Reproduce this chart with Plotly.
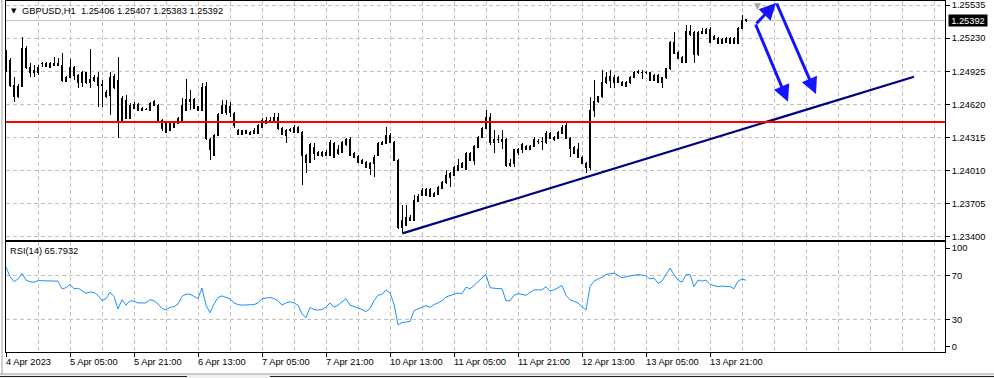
import plotly.graph_objects as go

# ---------------- data ----------------
bar_index = list(range(186))

opens = [
1.25102,1.25028,1.24798,1.24688,1.24789,1.25139,1.24964,1.24936,1.24909,1.24992,
1.24992,1.24964,1.24982,1.25001,1.24982,1.24835,1.24872,1.24964,1.24890,1.24826,
1.24909,1.24853,1.24844,1.24863,1.24807,1.24688,1.24872,1.24780,1.24844,1.24467,
1.24494,1.24494,1.24623,1.24623,1.24586,1.24577,1.24568,1.24614,1.24614,1.24476,
1.24448,1.24384,1.24411,1.24448,1.24476,1.24568,1.24669,1.24586,1.24596,1.24568,
1.24789,1.24301,1.24153,1.24338,1.24540,1.24614,1.24549,1.24540,1.24384,1.24347,
1.24375,1.24365,1.24356,1.24356,1.24411,1.24448,1.24467,1.24457,1.24503,1.24402,
1.24384,1.24384,1.24365,1.24411,1.24365,1.24153,1.24089,1.24227,1.24181,1.24181,
1.24153,1.24153,1.24264,1.24172,1.24181,1.24246,1.24301,1.24172,1.24144,1.24107,
1.24089,1.24080,1.24080,1.24153,1.24255,1.24264,1.24338,1.24273,1.24107,1.23490,
1.23509,1.23582,1.23555,1.23730,1.23785,1.23840,1.23840,1.23803,1.23794,1.23849,
1.23896,1.23951,1.23969,1.24015,1.24043,1.24024,1.24172,1.24107,1.24227,1.24319,
1.24402,1.24503,1.24301,1.24301,1.24301,1.24301,1.24080,1.24080,1.24181,1.24200,
1.24236,1.24209,1.24236,1.24282,1.24282,1.24273,1.24310,1.24292,1.24310,1.24356,
1.24430,1.24310,1.24227,1.24209,1.24135,1.24080,1.24043,1.24568,1.24642,1.24688,
1.24817,1.24881,1.24872,1.24826,1.24826,1.24826,1.24817,1.24872,1.24909,1.24918,
1.24909,1.24909,1.24844,1.24890,1.24863,1.24863,1.24946,1.25194,1.25102,1.25056,
1.25010,1.25295,1.25286,1.25075,1.25295,1.25277,1.25314,1.25249,1.25231,1.25185,
1.25194,1.25231,1.25185,1.25185,1.25323,1.25406]

highs = [
1.25121,1.25047,1.24872,1.24807,1.25240,1.25157,1.25001,1.24982,1.24982,1.25010,
1.25010,1.25010,1.25056,1.25047,1.25093,1.24881,1.25038,1.24973,1.24899,1.24927,
1.24918,1.25130,1.24890,1.24918,1.24844,1.24752,1.24918,1.24899,1.25056,1.24697,
1.24706,1.24632,1.24642,1.24632,1.24596,1.24586,1.24642,1.24660,1.24623,1.24485,
1.24457,1.24457,1.24467,1.24503,1.24678,1.24853,1.24752,1.24678,1.24605,1.24817,
1.24826,1.24310,1.24347,1.24540,1.24660,1.24660,1.24642,1.24549,1.24393,1.24384,
1.24384,1.24375,1.24402,1.24439,1.24494,1.24503,1.24503,1.24540,1.24540,1.24411,
1.24393,1.24402,1.24430,1.24421,1.24375,1.24163,1.24264,1.24264,1.24190,1.24190,
1.24200,1.24292,1.24273,1.24246,1.24282,1.24310,1.24319,1.24181,1.24153,1.24117,
1.24098,1.24089,1.24153,1.24273,1.24282,1.24411,1.24356,1.24282,1.24117,1.23693,
1.23693,1.23601,1.23785,1.23794,1.23849,1.23849,1.23849,1.23813,1.23868,1.23914,
1.24015,1.23997,1.24052,1.24117,1.24089,1.24181,1.24181,1.24246,1.24329,1.24411,
1.24568,1.24540,1.24384,1.24338,1.24384,1.24310,1.24117,1.24209,1.24218,1.24264,
1.24246,1.24246,1.24319,1.24301,1.24319,1.24375,1.24365,1.24329,1.24375,1.24430,
1.24448,1.24319,1.24236,1.24264,1.24144,1.24089,1.24688,1.24844,1.24697,1.24936,
1.24918,1.24936,1.24890,1.24881,1.24835,1.24835,1.24881,1.24927,1.24936,1.24936,
1.24927,1.24918,1.24899,1.24899,1.24872,1.24955,1.25203,1.25286,1.25111,1.25065,
1.25351,1.25351,1.25295,1.25295,1.25323,1.25323,1.25332,1.25259,1.25240,1.25231,
1.25240,1.25240,1.25240,1.25332,1.25443,1.25407]

lows = [
1.24918,1.24780,1.24642,1.24678,1.24780,1.24946,1.24872,1.24872,1.24890,1.24964,
1.24964,1.24955,1.24973,1.24973,1.24826,1.24826,1.24863,1.24844,1.24771,1.24780,
1.24807,1.24771,1.24826,1.24596,1.24596,1.24678,1.24522,1.24761,1.24310,1.24457,
1.24485,1.24485,1.24577,1.24559,1.24559,1.24568,1.24559,1.24605,1.24448,1.24375,
1.24356,1.24375,1.24402,1.24439,1.24467,1.24559,1.24568,1.24577,1.24568,1.24559,
1.24292,1.24107,1.24144,1.24329,1.24531,1.24522,1.24503,1.24402,1.24338,1.24338,
1.24347,1.24338,1.24347,1.24347,1.24402,1.24439,1.24457,1.24448,1.24384,1.24338,
1.24264,1.24365,1.24356,1.24356,1.23877,1.23988,1.24080,1.24107,1.24144,1.24135,
1.24144,1.24144,1.24126,1.24153,1.24172,1.24236,1.24144,1.24126,1.24080,1.24071,
1.24034,1.23969,1.23951,1.24144,1.24246,1.24255,1.24264,1.24098,1.23472,1.23435,
1.23500,1.23546,1.23546,1.23721,1.23776,1.23776,1.23767,1.23767,1.23785,1.23840,
1.23886,1.23859,1.23960,1.24006,1.24034,1.24015,1.24098,1.24061,1.24218,1.24310,
1.24393,1.24246,1.24172,1.24264,1.24209,1.24043,1.24043,1.24043,1.24153,1.24172,
1.24200,1.24200,1.24227,1.24255,1.24200,1.24255,1.24301,1.24282,1.24301,1.24347,
1.24301,1.24135,1.24163,1.24126,1.24071,1.23988,1.24015,1.24503,1.24632,1.24678,
1.24807,1.24771,1.24771,1.24817,1.24789,1.24780,1.24807,1.24863,1.24899,1.24853,
1.24899,1.24835,1.24835,1.24817,1.24771,1.24853,1.24936,1.25084,1.25038,1.25001,
1.25001,1.25249,1.25001,1.25065,1.25268,1.25268,1.25185,1.25213,1.25176,1.25176,
1.25185,1.25176,1.25176,1.25176,1.25314,1.25383]

closes = [
1.24936,1.24798,1.24688,1.24789,1.25139,1.24964,1.24918,1.24918,1.24964,1.25001,
1.24973,1.24992,1.25001,1.24982,1.24844,1.24872,1.24964,1.24890,1.24826,1.24909,
1.24826,1.24826,1.24872,1.24798,1.24798,1.24725,1.24706,1.24881,1.24457,1.24678,
1.24660,1.24614,1.24586,1.24568,1.24568,1.24577,1.24632,1.24642,1.24457,1.24402,
1.24365,1.24448,1.24457,1.24494,1.24614,1.24669,1.24651,1.24669,1.24568,1.24780,
1.24310,1.24209,1.24338,1.24531,1.24614,1.24549,1.24596,1.24421,1.24347,1.24375,
1.24356,1.24347,1.24384,1.24430,1.24476,1.24476,1.24476,1.24503,1.24402,1.24347,
1.24338,1.24393,1.24411,1.24365,1.24153,1.24089,1.24246,1.24172,1.24153,1.24153,
1.24181,1.24273,1.24135,1.24200,1.24273,1.24292,1.24153,1.24135,1.24089,1.24080,
1.24043,1.24034,1.24135,1.24264,1.24273,1.24329,1.24273,1.24107,1.23490,1.23555,
1.23582,1.23555,1.23739,1.23776,1.23831,1.23785,1.23776,1.23776,1.23859,1.23905,
1.23969,1.23988,1.24043,1.24061,1.24080,1.24172,1.24107,1.24236,1.24319,1.24402,
1.24503,1.24273,1.24273,1.24299,1.24282,1.24061,1.24061,1.24200,1.24200,1.24246,
1.24209,1.24236,1.24301,1.24280,1.24280,1.24356,1.24356,1.24319,1.24365,1.24411,
1.24310,1.24218,1.24172,1.24135,1.24080,1.24043,1.24568,1.24642,1.24688,1.24826,
1.24872,1.24844,1.24817,1.24872,1.24798,1.24789,1.24872,1.24918,1.24927,1.24916,
1.24918,1.24844,1.24890,1.24826,1.24826,1.24946,1.25194,1.25093,1.25047,1.25010,
1.25295,1.25259,1.25075,1.25286,1.25277,1.25314,1.25194,1.25222,1.25185,1.25222,
1.25231,1.25185,1.25231,1.25323,1.25397,1.25392]

rsi_values = [
78, 69, 64.5, 67, 72, 66, 64.5, 64, 65.5, 65.5,
65.5, 65.5, 65.5, 65, 58, 59, 62, 58, 58.5, 56,
54, 55, 54.5, 52, 47, 49, 55, 51, 39.5, 48,
43, 47, 46.5, 45, 45, 45, 48, 47, 44, 40,
38.5, 41, 41.5, 44, 51, 53, 53, 51, 49, 58.7,
43, 36, 44, 50, 51.5, 50, 49, 45, 43.5, 43,
43, 43.5, 43.5, 45, 49, 49.5, 50, 49, 47, 43,
45, 46, 45, 43, 35, 31.5, 41, 39, 38.5, 39,
41, 45, 41, 43, 46, 49, 43, 42, 40.5, 39,
37, 40, 47, 52, 53, 57, 54, 44, 25, 27,
27.5, 28, 38, 39.5, 41.5, 42.5, 41, 43.5, 45, 47,
50.5, 52, 53, 54, 53.5, 59.5, 58, 61, 65, 68,
71, 59, 58.5, 58.5, 58, 47, 47, 52, 53.5, 53,
52, 54.5, 57, 57, 57, 60, 56, 57, 59, 61,
52, 48, 46.5, 45, 41.5, 38.5, 60, 65, 67, 68.5,
71, 72, 72.5, 70.5, 68, 69, 70, 70.5, 71, 70.5,
70, 67, 68, 63, 65, 71, 77, 71, 66, 64,
71, 71, 60, 66, 65, 66, 62, 61, 60, 60.5,
60.5, 60, 58, 65, 67, 65.7932]

time_label_bars = [0, 16, 32, 48, 64, 80, 96, 112, 128, 144, 160, 176]
time_labels = ["4 Apr 2023", "5 Apr 05:00", "5 Apr 21:00", "6 Apr 13:00",
               "7 Apr 05:00", "7 Apr 21:00", "10 Apr 13:00", "11 Apr 05:00",
               "11 Apr 21:00", "12 Apr 13:00", "13 Apr 05:00", "13 Apr 21:00"]
grid_bars = list(range(8, 233, 8))

price_ticks = [1.25535, 1.25230, 1.24925, 1.24620, 1.24315, 1.24010, 1.23705, 1.23400]
rsi_tick_pos = [4.9, 30, 70, 95.4]
rsi_tick_text = ["0", "30", "70", "100"]
rsi_levels = [30, 70]

symbol = "GBPUSD,H1"
last_ohlc = [1.25406, 1.25407, 1.25383, 1.25392]
rsi_title = "RSI(14) 65.7932"

support_level = 1.24457
trend_x = [99.1, 227.0]
trend_y = [1.23432, 1.24875]

# arrows: (tail_x, tail_y, head_x, head_y)
arrows = [
    (187.25, 1.25351, 192.5, 1.25553),
    (192.5, 1.25563, 202.5, 1.24715),
    (187.25, 1.25369, 195.5, 1.24644),
]
shift_marker_bar = 187.75

# ---------------- figure ----------------
FONT = "Liberation Sans, Arial, sans-serif"
GRID = "#c0c0c0"
DASH = "4px,3px"
W, H = 994, 378
ML, MR, MT, MB = 6, 49, 1, 26
PW, PH = W - ML - MR, H - MT - MB

def py(y_px):
    return (H - MB - y_px) / PH

def px(x_px):
    return (x_px - ML) / PW

fig = go.Figure()
fig.add_trace(go.Candlestick(
    x=bar_index, open=opens, high=highs, low=lows, close=closes,
    xaxis="x", yaxis="y",
    increasing=dict(line=dict(color="black", width=1), fillcolor="white"),
    decreasing=dict(line=dict(color="black", width=1), fillcolor="black"),
    whiskerwidth=0, hoverinfo="skip", showlegend=False))
fig.add_trace(go.Scatter(
    x=trend_x, y=trend_y, mode="lines", xaxis="x", yaxis="y",
    line=dict(color="#000080", width=2.2), hoverinfo="skip", showlegend=False))
fig.add_trace(go.Scatter(
    x=bar_index, y=rsi_values, mode="lines", xaxis="x2", yaxis="y2",
    line=dict(color="#1e90ff", width=1), hoverinfo="skip", showlegend=False))

xr = [0, 234.75]
main_bottom = 240
rsi_top = 242

common_x = dict(range=xr, showline=True, mirror=True, linecolor="black", linewidth=1,
                zeroline=False, fixedrange=True)

fig.update_layout(
    width=W, height=H, margin=dict(l=ML, r=MR, t=MT, b=MB),
    paper_bgcolor="white", plot_bgcolor="white",
    showlegend=False, hovermode=False, dragmode=False, boxgap=0.3,
    font=dict(family=FONT, size=9.3, color="black"),
    xaxis=dict(domain=[0, 1], anchor="y", tickvals=grid_bars, showticklabels=False, ticks="",
               showgrid=True, gridcolor=GRID, griddash=DASH, gridwidth=1,
               rangeslider=dict(visible=False), **common_x),
    yaxis=dict(domain=[py(main_bottom), 1], anchor="x", side="right",
               range=[1.23371, 1.25572], tickvals=price_ticks,
               ticktext=[f"{v:.5f}" for v in price_ticks],
               ticks="outside", ticklen=4, tickcolor="black",
               showgrid=True, gridcolor=GRID, griddash=DASH, gridwidth=1,
               showline=True, mirror=True, linecolor="black", linewidth=1,
               zeroline=False, fixedrange=True, automargin=False,
               tickfont=dict(family=FONT, size=9.3, color="black")),
    xaxis2=dict(domain=[0, 1], anchor="y2", tickvals=time_label_bars,
                showticklabels=False, ticks="outside", ticklen=4, tickcolor="black",
                showgrid=True, gridcolor=GRID, griddash=DASH, gridwidth=1,
                minor=dict(tickvals=[b for b in grid_bars if b not in time_label_bars],
                           showgrid=True, gridcolor=GRID, griddash=DASH, ticks=""),
                **common_x),
    yaxis2=dict(domain=[0, py(rsi_top)], anchor="x2", side="right",
                range=[0, 100.92], tickvals=rsi_tick_pos, ticktext=rsi_tick_text,
                ticks="outside", ticklen=4, tickcolor="black", showgrid=False,
                minor=dict(tickvals=rsi_levels, showgrid=True, gridcolor=GRID,
                           griddash=DASH, ticks=""),
                showline=True, mirror=True, linecolor="black", linewidth=1,
                zeroline=False, fixedrange=True, automargin=False,
                tickfont=dict(family=FONT, size=9.3, color="black")),
)

shapes = []
# current price line
shapes.append(dict(type="line", xref="x domain", yref="y", x0=0, x1=1,
                   y0=last_ohlc[3], y1=last_ohlc[3], layer="below",
                   line=dict(color="#c0c0c0", width=1)))
# horizontal support line
shapes.append(dict(type="line", xref="x domain", yref="y", x0=0, x1=1,
                   y0=support_level, y1=support_level, layer="above",
                   line=dict(color="#ff0000", width=2)))
# window chrome
shapes.append(dict(type="rect", xref="paper", yref="paper", x0=px(0), x1=px(W),
                   y0=py(373.5), y1=py(H), fillcolor="#f0f0f0", line=dict(width=0)))
shapes.append(dict(type="line", xref="paper", yref="paper", x0=px(0), x1=px(W),
                   y0=py(374), y1=py(374), line=dict(color="#a0a0a0", width=1)))
shapes.append(dict(type="line", xref="paper", yref="paper", x0=px(0), x1=px(187),
                   y0=py(376.5), y1=py(376.5), line=dict(color="#202020", width=1)))
shapes.append(dict(type="line", xref="paper", yref="paper", x0=px(270), x1=px(W),
                   y0=py(376.5), y1=py(376.5), line=dict(color="#202020", width=1)))
shapes.append(dict(type="line", xref="paper", yref="paper", x0=px(2), x1=px(2),
                   y0=py(374), y1=py(0), line=dict(color="#a0a0a0", width=1)))
fig.update_layout(shapes=shapes)

ann = []
for b, t in zip(time_label_bars, time_labels):
    ann.append(dict(x=b, xref="x2", y=0, yref="paper", text=t, showarrow=False,
                    xanchor="left", yanchor="top", xshift=-2, yshift=-3,
                    font=dict(family=FONT, size=9.3, color="black")))
for tx, ty, hx, hy in arrows:
    ann.append(dict(x=hx, y=hy, xref="x", yref="y", ax=tx, ay=ty, axref="x", ayref="y",
                    text="", showarrow=True, arrowhead=2, arrowsize=1.1, arrowwidth=3,
                    arrowcolor="#1414ff", standoff=0, startstandoff=0))
# shift marker
ann.append(dict(x=shift_marker_bar, xref="x", y=1, yref="paper", text="▼",
                showarrow=False, yanchor="top", yshift=2,
                font=dict(family="DejaVu Sans", size=9, color="#a8a8a8")))
# title
ann.append(dict(x=0, xref="paper", y=py(11), yref="paper", text="▼", showarrow=False,
                xanchor="left", yanchor="middle", xshift=3,
                font=dict(family="DejaVu Sans", size=7, color="black")))
ann.append(dict(x=0, xref="paper", y=py(11), yref="paper",
                text=f"{symbol}  " + " ".join(f"{v:.5f}" for v in last_ohlc),
                showarrow=False, xanchor="left", yanchor="middle", xshift=14,
                font=dict(family=FONT, size=9.3, color="black")))
# RSI title
ann.append(dict(x=0, xref="paper", y=py(251), yref="paper", text=rsi_title,
                showarrow=False, xanchor="left", yanchor="middle", xshift=2,
                font=dict(family=FONT, size=9.3, color="black")))
# current price box
ann.append(dict(x=1, xref="paper", y=last_ohlc[3], yref="y", text=f"{last_ohlc[3]:.5f}",
                showarrow=False, xanchor="left", yanchor="middle", xshift=3,
                bgcolor="black", borderpad=1, width=36, height=9,
                font=dict(family=FONT, size=9.3, color="white")))
fig.update_layout(annotations=ann)

post = (
    "document.body.style.margin='0px';document.body.style.overflow='hidden';"
    "var st=document.createElement('style');"
    "st.textContent='.cartesianlayer .trace.boxes path{shape-rendering:crispEdges;}';"
    "document.head.appendChild(st);"
)
fig.write_html("out.html", config={"staticPlot": True}, post_script=post)
